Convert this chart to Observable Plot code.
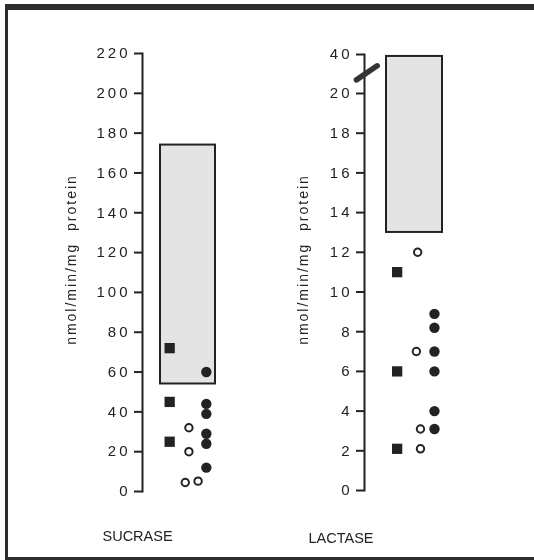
<!DOCTYPE html>
<html>
<head>
<meta charset="utf-8">
<script src="https://cdn.jsdelivr.net/npm/d3@7"></script>
<script src="https://cdn.jsdelivr.net/npm/@observablehq/plot@0.6"></script>
<style>
  html, body { margin: 0; padding: 0; background: #fff; overflow: hidden; width: 100%; height: 100%; }
  #wrap { position: fixed; left: 0; top: 0; width: 534px; height: 560px; overflow: hidden; }
  .bar { position: absolute; background: #2c2c2c; }
  #btop { left: 5px; top: 4px; width: 529px; height: 6px; }
  #bleft { left: 5px; top: 4px; width: 3px; height: 556px; }
  #bbottom { left: 5px; top: 557px; width: 529px; height: 3px; }
  .panel { position: absolute; left: 0; top: 0; }
  g[aria-label="y-axis tick label"] text { letter-spacing: 3px; font-size: 15px; }
  .ytitle text { letter-spacing: 2px; }
</style>
</head>
<body>
<div id="wrap"><div class="bar" id="btop"></div><div class="bar" id="bleft"></div><div class="bar" id="bbottom"></div></div>
<script>
// ---- data ----
const sucraseTicks = [0, 20, 40, 60, 80, 100, 120, 140, 160, 180, 200, 220];
const sucraseNormal = [54, 174];                 // reference range (box)
const sucraseSquares = [72, 45, 25];
const sucraseOpen = [32, 20, 4.5, 5.2];
const sucraseOpenCol = [2.05, 2.05, 1.85, 2.55];
const sucraseFilled = [60, 44, 39, 29, 24, 12];

const lactaseTicks = [0, 2, 4, 6, 8, 10, 12, 14, 16, 18, 20, 40];
const lactaseNormal = [13, 39];
const lactaseSquares = [11, 6, 2.1];
const lactaseOpen = [12, 7, 3.1, 2.1];
const lactaseOpenCol = [2.17, 2.1, 2.32, 2.32];
const lactaseFilled = [8.9, 8.2, 7.0, 6.0, 4.0, 3.1];
const lactaseBreak = [{x: -1.11, y: 27.0}, {x: 0.0, y: 34.2}];

const yTitle = "nmol/min/mg\u00a0 protein";
const ink = "#232323";
const font = "'Liberation Sans', Arial, Helvetica, sans-serif";

function panel(o) {
  return Plot.plot({
    width: 534, height: 560,
    marginLeft: o.marginLeft, marginTop: o.marginTop, marginBottom: o.marginBottom, marginRight: 0,
    style: {background: "transparent", fontFamily: font, color: ink},
    x: {domain: [0.5, 3.5], range: o.xRange, axis: null},
    y: o.y,
    marks: [
      Plot.rect([o.normal], {x1: 0.5, x2: 3.5, y1: d => d[0], y2: d => d[1],
        fill: "#e4e4e4", stroke: ink, strokeWidth: 2}),
      Plot.frame({anchor: "left", stroke: ink, strokeWidth: 2}),
      Plot.axisY({ticks: o.ticks, tickSize: 8, tickPadding: 4, stroke: ink, strokeWidth: 2,
        fontSize: 15, label: null, tickFormat: d => String(d)}),
      ...(o.brk ? [Plot.line(o.brk, {x: "x", y: "y", stroke: "#333", strokeWidth: 5.5})] : []),
      Plot.dot(o.squares, {x: o.sqCol, y: d => d, symbol: "square", r: 5.8, fill: ink}),
      Plot.dot(o.open, {x: (d, i) => o.openCol[i], y: d => d, r: 3.7, stroke: ink, strokeWidth: 2, fill: "#fff"}),
      Plot.dot(o.filled, {x: o.fCol, y: d => d, r: 5.2, fill: ink}),
      Plot.text([yTitle], {frameAnchor: "left", textAnchor: "middle", rotate: -90, dx: o.titleDx, dy: -13,
        fontSize: 14, fill: ink, className: "ytitle", lineAnchor: "middle"}),
      Plot.text([o.name], {frameAnchor: "bottom-left", textAnchor: "start", lineAnchor: "bottom",
        dx: o.nameDx, dy: o.nameDy, fontSize: 14.5, fill: ink})
    ]
  });
}

const p1 = panel({
  marginLeft: 142, marginTop: 53, marginBottom: 69,
  xRange: [160, 215],
  y: {domain: [0, 220]},
  ticks: sucraseTicks, normal: sucraseNormal,
  squares: sucraseSquares, sqCol: 1,
  open: sucraseOpen, openCol: sucraseOpenCol,
  filled: sucraseFilled, fCol: 3,
  titleDx: -71, name: "SUCRASE", nameDx: -40, nameDy: 49
});
const p2 = panel({
  marginLeft: 364, marginTop: 54, marginBottom: 70,
  xRange: [386, 442],
  y: {type: "linear", domain: [0, 20, 40], range: [490, 93, 54]},
  ticks: lactaseTicks, normal: lactaseNormal,
  squares: lactaseSquares, sqCol: 1.07,
  open: lactaseOpen, openCol: lactaseOpenCol,
  filled: lactaseFilled, fCol: 3.07,
  brk: lactaseBreak,
  titleDx: -60.5, name: "LACTASE", nameDx: -56, nameDy: 52
});
p1.classList.add("panel");
p2.classList.add("panel");
document.getElementById("wrap").append(p1, p2);
</script>
</body>
</html>
